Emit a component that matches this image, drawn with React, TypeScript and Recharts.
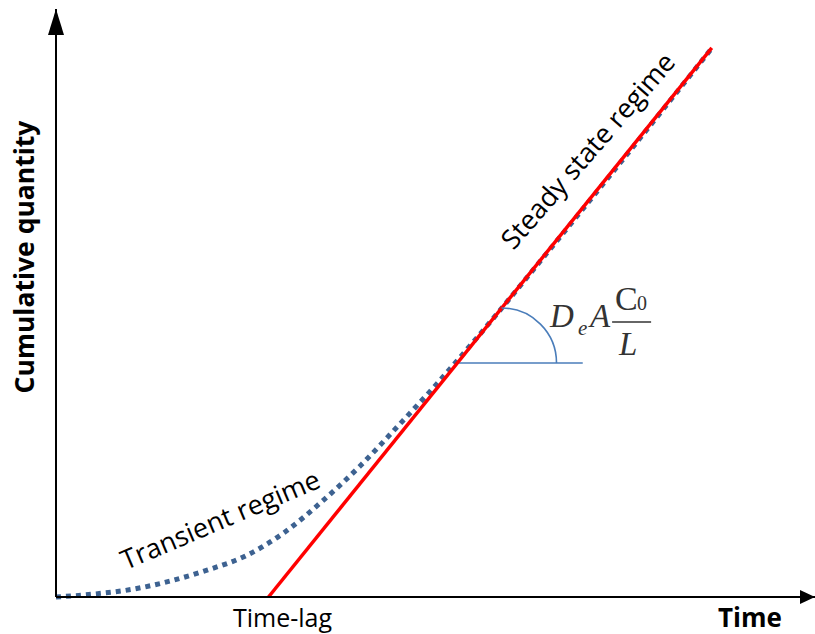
import React from 'react';
import { LineChart, Line, XAxis, YAxis, ReferenceLine, ReferenceDot, Label } from 'recharts';

// transient (dotted) curve
const transientT = [0, 5, 10, 15, 20, 25, 30, 35, 40, 45, 50, 55, 65, 75, 86.2];
const transientQ = [0, 0.5, 1.3, 2.7, 4.6, 7.0, 10.9, 16.2, 22.2, 29.0, 36.0, 43.4, 59.0, 74.9, 93.0];

// steady state asymptote
const steadyT = [28, 86.4];
const steadyQ = [0, 93.4];

const timeLag = 28;
const angleVertex = { t: 52.9, q: 39.8 };
const angleEndT = 69.4;
const formulaAt = { t: 65.1, q: 45.9 };
const transientLabelAt = { t: 21.6, q: 13.3 };
const steadyLabelAt = { t: 70.0, q: 76.0 };

const transientData = transientT.map((t, i) => ({ t, q: transientQ[i] }));
const steadyData = steadyT.map((t, i) => ({ t, q: steadyQ[i] }));

const sans = '"Open Sans", sans-serif';
const serif = '"Liberation Serif", "DejaVu Serif", serif';
const eqColor = '#333';

const Arc = (props: any) => {
  const { cx, cy } = props;
  return (
    <path
      d={`M ${cx + 44} ${cy - 55} A 55 55 0 0 1 ${cx + 99} ${cy}`}
      fill="none"
      stroke="#4a7dba"
      strokeWidth={1.6}
    />
  );
};

const Formula = (props: any) => {
  const { cx, cy } = props;
  return (
    <g fontFamily={serif} fill={eqColor}>
      <text x={cx} y={cy} fontSize={33} fontStyle="italic">D</text>
      <text x={cx + 28} y={cy + 8} fontSize={21} fontStyle="italic">e</text>
      <text x={cx + 40} y={cy} fontSize={33} fontStyle="italic">A</text>
      <line x1={cx + 62} x2={cx + 101} y1={cy - 5} y2={cy - 5} stroke={eqColor} strokeWidth={1.5} />
      <text x={cx + 65} y={cy - 17} fontSize={34}>C</text>
      <text x={cx + 87} y={cy - 17} fontSize={20}>0</text>
      <text x={cx + 69} y={cy + 28} fontSize={33} fontStyle="italic">L</text>
    </g>
  );
};

const rotatedText = (value: string, angle: number, size: number) => (props: any) => {
  const { cx, cy } = props;
  return (
    <text
      x={cx}
      y={cy}
      transform={`rotate(${angle} ${cx} ${cy})`}
      textAnchor="middle"
      dominantBaseline="central"
      fontFamily={sans}
      fontSize={size}
      fill="#000"
    >
      {value}
    </text>
  );
};

const LagLabel = (props: any) => {
  const { cx, cy } = props;
  return (
    <text x={cx + 14} y={cy + 30} textAnchor="middle" fontFamily={sans} fontSize={25} fill="#000">
      Time-lag
    </text>
  );
};

export default function App() {
  return (
    <div style={{ position: 'absolute', left: 0, top: 0, background: '#fff' }}>
      <LineChart width={815} height={634} margin={{ top: 9, right: 0, bottom: 0, left: 0 }}>
        <defs>
          <marker id="arrowX" markerUnits="userSpaceOnUse" markerWidth={16} markerHeight={14} refX={15} refY={7} orient="auto">
            <path d="M0,0 L15,7 L0,14 z" fill="#000" />
          </marker>
          <marker id="arrowY" markerUnits="userSpaceOnUse" markerWidth={27} markerHeight={16} refX={26} refY={8} orient="auto-start-reverse">
            <path d="M0,0 L26,8 L0,16 z" fill="#000" />
          </marker>
        </defs>
        <XAxis
          type="number"
          dataKey="t"
          domain={[0, 100]}
          ticks={[]}
          tick={false}
          tickLine={false}
          height={37}
          axisLine={{ stroke: '#000', strokeWidth: 2, markerEnd: 'url(#arrowX)' }}
        >
          <Label
            content={(p: any) => (
              <text
                x={p.viewBox.x + p.viewBox.width - 65}
                y={p.viewBox.y + 30}
                textAnchor="middle"
                fontFamily={sans}
                fontSize={26}
                fontWeight="bold"
                fill="#000"
              >
                Time
              </text>
            )}
          />
        </XAxis>
        <YAxis
          type="number"
          dataKey="q"
          domain={[0, 100]}
          ticks={[]}
          tick={false}
          tickLine={false}
          width={56}
          axisLine={{ stroke: '#000', strokeWidth: 2, markerStart: 'url(#arrowY)' }}
        >
          <Label
            content={(p: any) => {
              const x = 24;
              const y = p.viewBox.y + p.viewBox.height / 2 - 46;
              return (
                <text
                  x={x}
                  y={y}
                  transform={`rotate(-90 ${x} ${y})`}
                  textAnchor="middle"
                  dominantBaseline="central"
                  fontFamily={sans}
                  fontSize={26.5}
                  fontWeight="bold"
                  fill="#000"
                >
                  Cumulative quantity
                </text>
              );
            }}
          />
        </YAxis>
        <ReferenceLine
          segment={[{ x: angleVertex.t, y: angleVertex.q }, { x: angleEndT, y: angleVertex.q }]}
          stroke="#4a7dba"
          strokeWidth={1.6}
        />
        <ReferenceDot x={angleVertex.t} y={angleVertex.q} r={0} shape={Arc} />
        <Line
          data={transientData}
          dataKey="q"
          type="monotone"
          stroke="#3d6291"
          strokeWidth={5}
          strokeDasharray="5 5"
          dot={false}
          isAnimationActive={false}
        />
        <Line
          data={steadyData}
          dataKey="q"
          type="linear"
          stroke="#ff0000"
          strokeWidth={3.5}
          dot={false}
          isAnimationActive={false}
        />
        <ReferenceDot x={formulaAt.t} y={formulaAt.q} r={0} shape={Formula} />
        <ReferenceDot x={transientLabelAt.t} y={transientLabelAt.q} r={0} shape={rotatedText('Transient regime', -23, 27)} />
        <ReferenceDot x={steadyLabelAt.t} y={steadyLabelAt.q} r={0} shape={rotatedText('Steady state regime', -49, 27)} />
        <ReferenceDot x={timeLag} y={0} r={0} shape={LagLabel} />
      </LineChart>
    </div>
  );
}
